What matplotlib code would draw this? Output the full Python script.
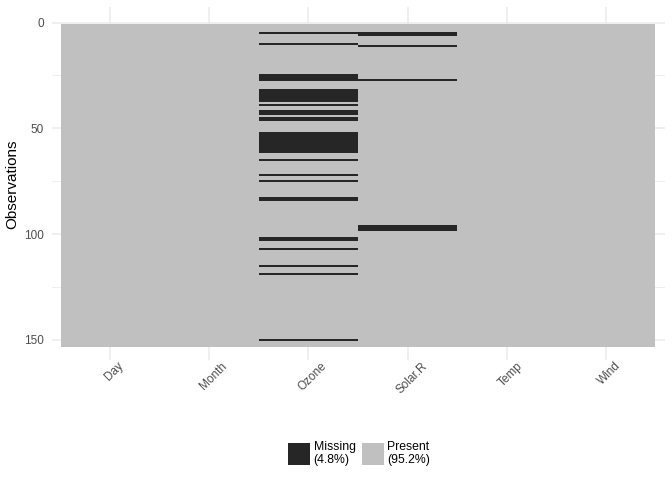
import numpy as np
import matplotlib
matplotlib.use("Agg")
import matplotlib.pyplot as plt
import matplotlib.transforms as mtransforms
from matplotlib.patches import Patch
from matplotlib.colors import ListedColormap

plt.rcParams['font.family'] = ['Liberation Sans', 'DejaVu Sans']

variables = ["Day", "Month", "Ozone", "Solar.R", "Temp", "Wind"]
n_obs = 153
missing_rows = {
    "Day": [],
    "Month": [],
    "Ozone": [5, 10, 25, 26, 27, 32, 33, 34, 35, 36, 37, 39, 42, 43, 45, 46,
              52, 53, 54, 55, 56, 57, 58, 59, 60, 61, 65, 72, 75, 83, 84,
              102, 103, 107, 115, 119, 150],
    "Solar.R": [5, 6, 11, 27, 96, 97, 98],
    "Temp": [],
    "Wind": [],
}
legend_labels = ["Missing\n(4.8%)", "Present\n(95.2%)"]
col_missing = "#262626"
col_present = "#c0c0c0"

mat = np.zeros((n_obs, len(variables)))
for j, v in enumerate(variables):
    for r in missing_rows[v]:
        mat[r - 1, j] = 1

fig = plt.figure(figsize=(6.72, 4.8), dpi=100)
ax = fig.add_axes([52/672, 1 - 360/480, (665 - 52)/672, (360 - 7)/480])
ax.set_facecolor("white")

xe = np.arange(0.5, len(variables) + 1, 1)
ye = np.arange(0.5, n_obs + 1.5, 1)
ax.pcolormesh(xe, ye, mat, cmap=ListedColormap([col_present, col_missing]),
              vmin=0, vmax=1, zorder=2)

ax.set_xlim(0.41, 6.6)
ax.set_ylim(159.6, -7.4)

grid_c = "#ebebeb"
for y in [25, 75, 125]:
    ax.axhline(y, color=grid_c, lw=0.6, zorder=0)
for y in [0, 50, 100, 150]:
    ax.axhline(y, color=grid_c, lw=1.1, zorder=0)
for x in range(1, 7):
    ax.axvline(x, color=grid_c, lw=1.1, zorder=0)

ax.set_xticks(range(1, 7))
ax.set_xticklabels(variables, rotation=45, ha="center", va="top")
ax.set_yticks([0, 50, 100, 150])
ax.tick_params(axis="both", length=0, labelsize=8.5, labelcolor="#4d4d4d")
ax.tick_params(axis="x", pad=0)
ax.tick_params(axis="y", pad=6)
offset = mtransforms.ScaledTranslation(4/100, 0, fig.dpi_scale_trans)
for lab in ax.get_xticklabels():
    lab.set_transform(lab.get_transform() + offset)
for s in ax.spines.values():
    s.set_visible(False)
fig.text(12.5/672, 1 - 184/480, "Observations", rotation=90, fontsize=11,
         color="black", ha="center", va="center")

handles = [Patch(facecolor=col_missing, edgecolor="none"),
           Patch(facecolor=col_present, edgecolor="none")]
fig.legend(handles, legend_labels, loc="center", bbox_to_anchor=(359/672, 1 - 453.5/480),
           ncol=2, frameon=False, fontsize=8.8, handlelength=1.8, handleheight=2.4,
           handletextpad=0.3, columnspacing=0.5, borderaxespad=0)

fig.savefig("out.png", dpi=100)
